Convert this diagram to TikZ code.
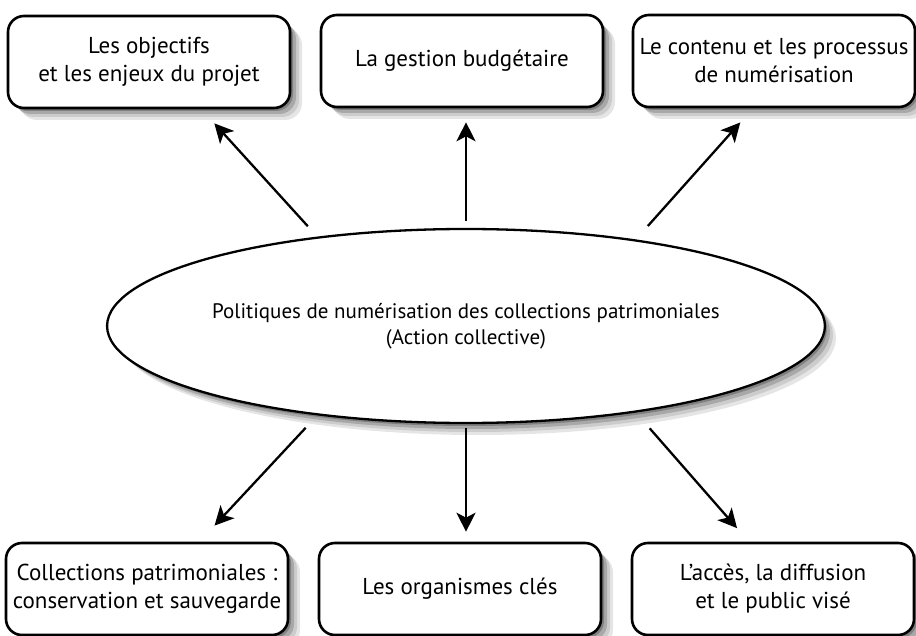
\documentclass[tikz,border=0pt]{standalone}
\usepackage{fontspec}
\setmainfont{PT Sans}
\usetikzlibrary{shapes.geometric,arrows.meta}

\tikzset{
  theme/.style={draw, line width=2.6pt, rounded corners=16pt, fill=white,
    minimum width=282pt, minimum height=92pt, align=center, inner sep=2pt,
    font=\fontsize{23}{28}\selectfont},
  coeur/.style={draw, ellipse, line width=2.3pt, fill=white, minimum width=716pt,
    minimum height=194pt, align=center, inner sep=0pt,
    font=\fontsize{21}{26}\selectfont},
  fleche/.style={-{Stealth[length=19pt,width=19pt,inset=5pt]}, line width=2.3pt},
  ombre/.style={fill=black!#1}
}

\begin{document}
\begin{tikzpicture}[x=1pt,y=-1pt]
	  \useasboundingbox (0,0) rectangle (916,636);

	  % Shadows, lightest first
	  \foreach \d/\c in {12/10, 9/20, 6/34, 3/50} {
	    \foreach \x/\y in {149/62, 462/61, 774/61, 147/589, 460/589, 773/589}
	      \fill [ombre=\c, rounded corners=17pt] (\x-141+\d, \y-46+\d) rectangle (\x+141+\d, \y+46+\d);
	    \fill [ombre=\c] (466+\d, 326+\d) ellipse [x radius=358, y radius=97];
	  }

	  % Top row
	  \node [theme] (objectifs) at (149,62) {Les objectifs\\et les enjeux du projet};
	  \node [theme] (budget) at (462,61) {La gestion budgétaire};
	  \node [theme] (contenu) at (774,61) {Le contenu et les processus\\de numérisation};

	  % Centre
	  \node [coeur] (politiques) at (466,326) {Politiques de numérisation des collections patrimoniales\\(Action collective)};

	  % Bottom row
	  \node [theme] (collections) at (147,589) {Collections patrimoniales :\\conservation et sauvegarde};
	  \node [theme] (organismes) at (460,589) {Les organismes clés};
	  \node [theme] (acces) at (773,589) {L’accès, la diffusion\\et le public visé};

	  % Arrows
	  \draw [fleche, shorten <=14pt, shorten >=19pt] (politiques.149) -- (objectifs.318);
	  \draw [fleche, shorten <=7pt, shorten >=14pt] (politiques.north) -- (politiques.north |- budget.south);
	  \draw [fleche, shorten <=18pt, shorten >=19pt] (politiques.27) -- (contenu.246);
	  \draw [fleche, shorten <=17pt, shorten >=22pt] (politiques.211) -- (collections.42);
	  \draw [fleche, shorten <=4pt, shorten >=10pt] (politiques.south) -- (politiques.south |- organismes.north);
	  \draw [fleche, shorten <=21pt, shorten >=18pt] (politiques.333) -- (acces.117);
\end{tikzpicture}
\end{document}
